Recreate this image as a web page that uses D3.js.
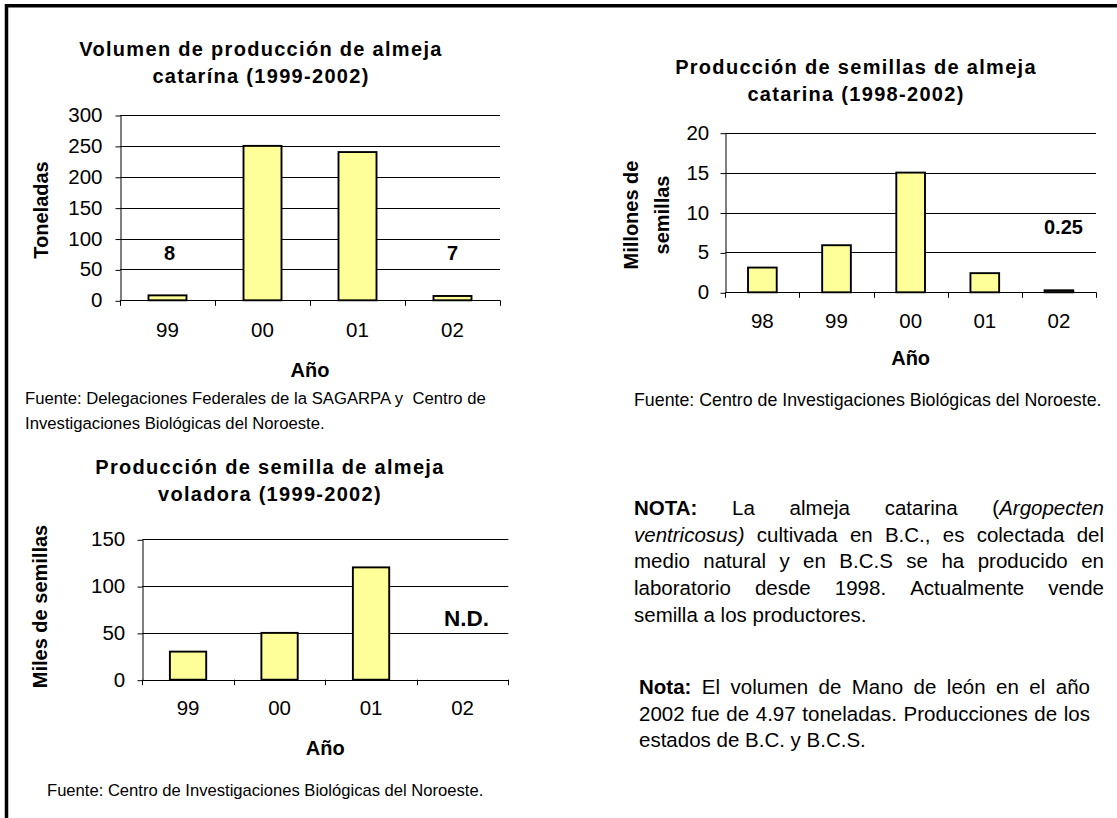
<!DOCTYPE html>
<html>
<head>
<meta charset="utf-8">
<script src="https://cdn.jsdelivr.net/npm/d3@7"></script>
<style>
  body { margin: 0; background: #fff; }
  svg { display: block; }
  text { font-family: "Liberation Sans", Arial, sans-serif; fill: #000; }
  .src { white-space: pre; }
</style>
</head>
<body>
<svg id="vis" width="1117" height="818"></svg>
<script>
// data
const years1 = ["99", "00", "01", "02"];
const tons1 = [8, 250, 240, 7];
const ticks1 = [0, 50, 100, 150, 200, 250, 300];

const years2 = ["98", "99", "00", "01", "02"];
const seeds2 = [3.1, 5.9, 15, 2.4, 0.25];
const ticks2 = [0, 5, 10, 15, 20];

const years3 = ["99", "00", "01", "02"];
const seeds3 = [30, 50, 120, null];
const ticks3 = [0, 50, 100, 150];

const note1 = [
  "*NOTA:* La almeja catarina (_Argopecten",
  "ventricosus)_ cultivada en B.C., es colectada del",
  "medio natural y en B.C.S se ha producido en",
  "laboratorio desde 1998. Actualmente vende",
  "semilla a los productores."
];
const note2 = [
  "*Nota:* El volumen de Mano de león en el año",
  "2002 fue de 4.97 toneladas. Producciones de los",
  "estados de B.C. y B.C.S."
];

const svg = d3.select("#vis");
const BAR_FILL = "#ffff99";

// frame
svg.append("line").attr("x1", 5).attr("x2", 1117).attr("y1", 5.75).attr("y2", 5.75)
  .attr("stroke", "#000").attr("stroke-width", 3.5);
svg.append("line").attr("x1", 6.5).attr("x2", 6.5).attr("y1", 4).attr("y2", 818)
  .attr("stroke", "#000").attr("stroke-width", 3.5);

function drawChart(c) {
  const g = svg.append("g");
  const x = d3.scaleBand().domain(c.cats).range([c.left, c.right]).padding(0);
  const y = d3.scaleLinear().domain([0, c.max]).range([c.bottom, c.top]);

  // gridlines
  g.append("g").selectAll("line").data(c.ticks).join("line")
    .attr("x1", c.left).attr("x2", c.right)
    .attr("y1", d => Math.round(y(d)) + 0.5).attr("y2", d => Math.round(y(d)) + 0.5)
    .attr("stroke", "#000").attr("stroke-width", 1);

  // y axis
  const ya = g.append("g").attr("transform", `translate(${Math.round(c.left) + 0.5},0)`)
    .call(d3.axisLeft(y).tickValues(c.ticks).tickSize(5).tickSizeOuter(0).tickPadding(c.yPad));
  ya.selectAll("text").attr("font-size", 20.5).attr("font-family", null);
  ya.selectAll("line, path").attr("stroke", "#000");
  ya.selectAll(".tick line").attr("transform", "translate(0,0.5)");

  // x axis: boundary ticks and centred labels
  g.append("g").selectAll("line").data(d3.range(c.cats.length + 1)).join("line")
    .attr("x1", i => Math.round(c.left + i * x.step()) + 0.5)
    .attr("x2", i => Math.round(c.left + i * x.step()) + 0.5)
    .attr("y1", c.bottom).attr("y2", c.bottom + 5.5)
    .attr("stroke", "#000");
  const xa = g.append("g").attr("transform", `translate(0,${c.bottom})`)
    .call(d3.axisBottom(x).tickSize(0).tickPadding(c.xPad));
  xa.select(".domain").remove();
  xa.selectAll("text").attr("font-size", 20.5).attr("font-family", null);

  // bars
  const bw = x.step() * c.barRatio;
  g.append("g").selectAll("rect")
    .data(c.cats.map((k, i) => ({ k, v: c.vals[i] })).filter(d => d.v != null))
    .join("rect")
    .attr("x", d => x(d.k) + (x.step() - bw) / 2)
    .attr("width", bw)
    .attr("y", d => y(d.v))
    .attr("height", d => y(0) - y(d.v))
    .attr("fill", BAR_FILL).attr("stroke", "#000").attr("stroke-width", 1.9);

  // value notes
  (c.notes || []).forEach(n => {
    g.append("text")
      .attr("x", x(n.cat) + x.step() / 2 + n.dx)
      .attr("y", y(n.at))
      .attr("text-anchor", "middle").attr("font-weight", "bold")
      .attr("font-size", n.size).text(n.text);
  });

  // title
  c.title.forEach((t, i) => {
    g.append("text").attr("x", c.titleX).attr("y", c.titleY + i * 27.3)
      .attr("text-anchor", "middle").attr("font-weight", "bold")
      .attr("font-size", 20).attr("letter-spacing", 1.3).text(t);
  });

  // axis titles
  c.yTitle.forEach((t, i) => {
    g.append("text")
      .attr("transform", `translate(${c.yTitleX + i * 30.5},${c.yTitleY}) rotate(-90)`)
      .attr("text-anchor", "middle").attr("font-weight", "bold")
      .attr("font-size", 20).text(t);
  });
  g.append("text").attr("x", (c.left + c.right) / 2).attr("y", c.xTitleY)
    .attr("text-anchor", "middle").attr("font-weight", "bold")
    .attr("font-size", 20).text("Año");

  // source
  c.source.forEach((t, i) => {
    g.append("text").attr("class", "src").attr("x", c.sourceX).attr("y", c.sourceY + i * 25)
      .attr("font-size", c.sourceSize).text(t);
  });
}

drawChart({
  cats: years1, vals: tons1, ticks: ticks1, max: 300,
  left: 120, right: 500, top: 115, bottom: 300.3, barRatio: 0.4,
  yPad: 13, xPad: 22,
  title: ["Volumen de producción de almeja", "catarína (1999-2002)"], titleX: 261, titleY: 56,
  yTitle: ["Toneladas"], yTitleX: 48, yTitleY: 210,
  xTitleY: 377,
  notes: [{ cat: "99", text: "8", at: 65, dx: 2, size: 20 },
          { cat: "02", text: "7", at: 65, dx: 0, size: 20 }],
  source: ["Fuente: Delegaciones Federales de la SAGARPA y  Centro de",
           "Investigaciones Biológicas del Noroeste."],
  sourceX: 25, sourceY: 404, sourceSize: 16.7
});

drawChart({
  cats: years2, vals: seeds2, ticks: ticks2, max: 20,
  left: 725.3, right: 1096, top: 132.7, bottom: 292.3, barRatio: 0.387,
  yPad: 11.3, xPad: 21,
  title: ["Producción de semillas de almeja", "catarina (1998-2002)"], titleX: 856, titleY: 74,
  yTitle: ["Millones de", "semillas"], yTitleX: 638, yTitleY: 215,
  xTitleY: 365,
  notes: [{ cat: "02", text: "0.25", at: 7.3, dx: 4.5, size: 20 }],
  source: ["Fuente: Centro de Investigaciones Biológicas del Noroeste."],
  sourceX: 634, sourceY: 406, sourceSize: 17.8
});

drawChart({
  cats: years3, vals: seeds3, ticks: ticks3, max: 150,
  left: 142.3, right: 508.3, top: 539.3, bottom: 679.7, barRatio: 0.397,
  yPad: 12.3, xPad: 20.7,
  title: ["Producción de semilla de almeja", "voladora (1999-2002)"], titleX: 270, titleY: 474,
  yTitle: ["Miles de semillas"], yTitleX: 46.5, yTitleY: 606.5,
  xTitleY: 755,
  notes: [{ cat: "02", text: "N.D.", at: 57.7, dx: 4, size: 22.5 }],
  source: ["Fuente: Centro de Investigaciones Biológicas del Noroeste."],
  sourceX: 47, sourceY: 796, sourceSize: 16.6
});

// justified notes on the right
function drawNote(lines, x0, x1, y0, lh, size) {
  const g = svg.append("g");
  let bold = false, italic = false;
  lines.forEach((line, li) => {
    const words = line.split(/\s+/);
    const nodes = words.map(w => {
      const t = g.append("text").attr("y", y0 + li * lh).attr("font-size", size);
      let buf = "";
      const flush = () => {
        if (!buf) return;
        t.append("tspan").text(buf)
          .attr("font-weight", bold ? "bold" : "normal")
          .attr("font-style", italic ? "italic" : "normal");
        buf = "";
      };
      for (const ch of w) {
        if (ch === "*") { flush(); bold = !bold; }
        else if (ch === "_") { flush(); italic = !italic; }
        else buf += ch;
      }
      flush();
      return t;
    });
    const widths = nodes.map(t => t.node().getComputedTextLength());
    const total = d3.sum(widths);
    const last = li === lines.length - 1;
    const gap = last || words.length < 2 ? size * 0.278 : (x1 - x0 - total) / (words.length - 1);
    let cx = x0;
    nodes.forEach((t, i) => { t.attr("x", cx); cx += widths[i] + gap; });
  });
}

drawNote(note1, 634, 1104, 515, 26.7, 20.5);
drawNote(note2, 639, 1090, 694, 26.7, 20.5);
</script>
</body>
</html>
